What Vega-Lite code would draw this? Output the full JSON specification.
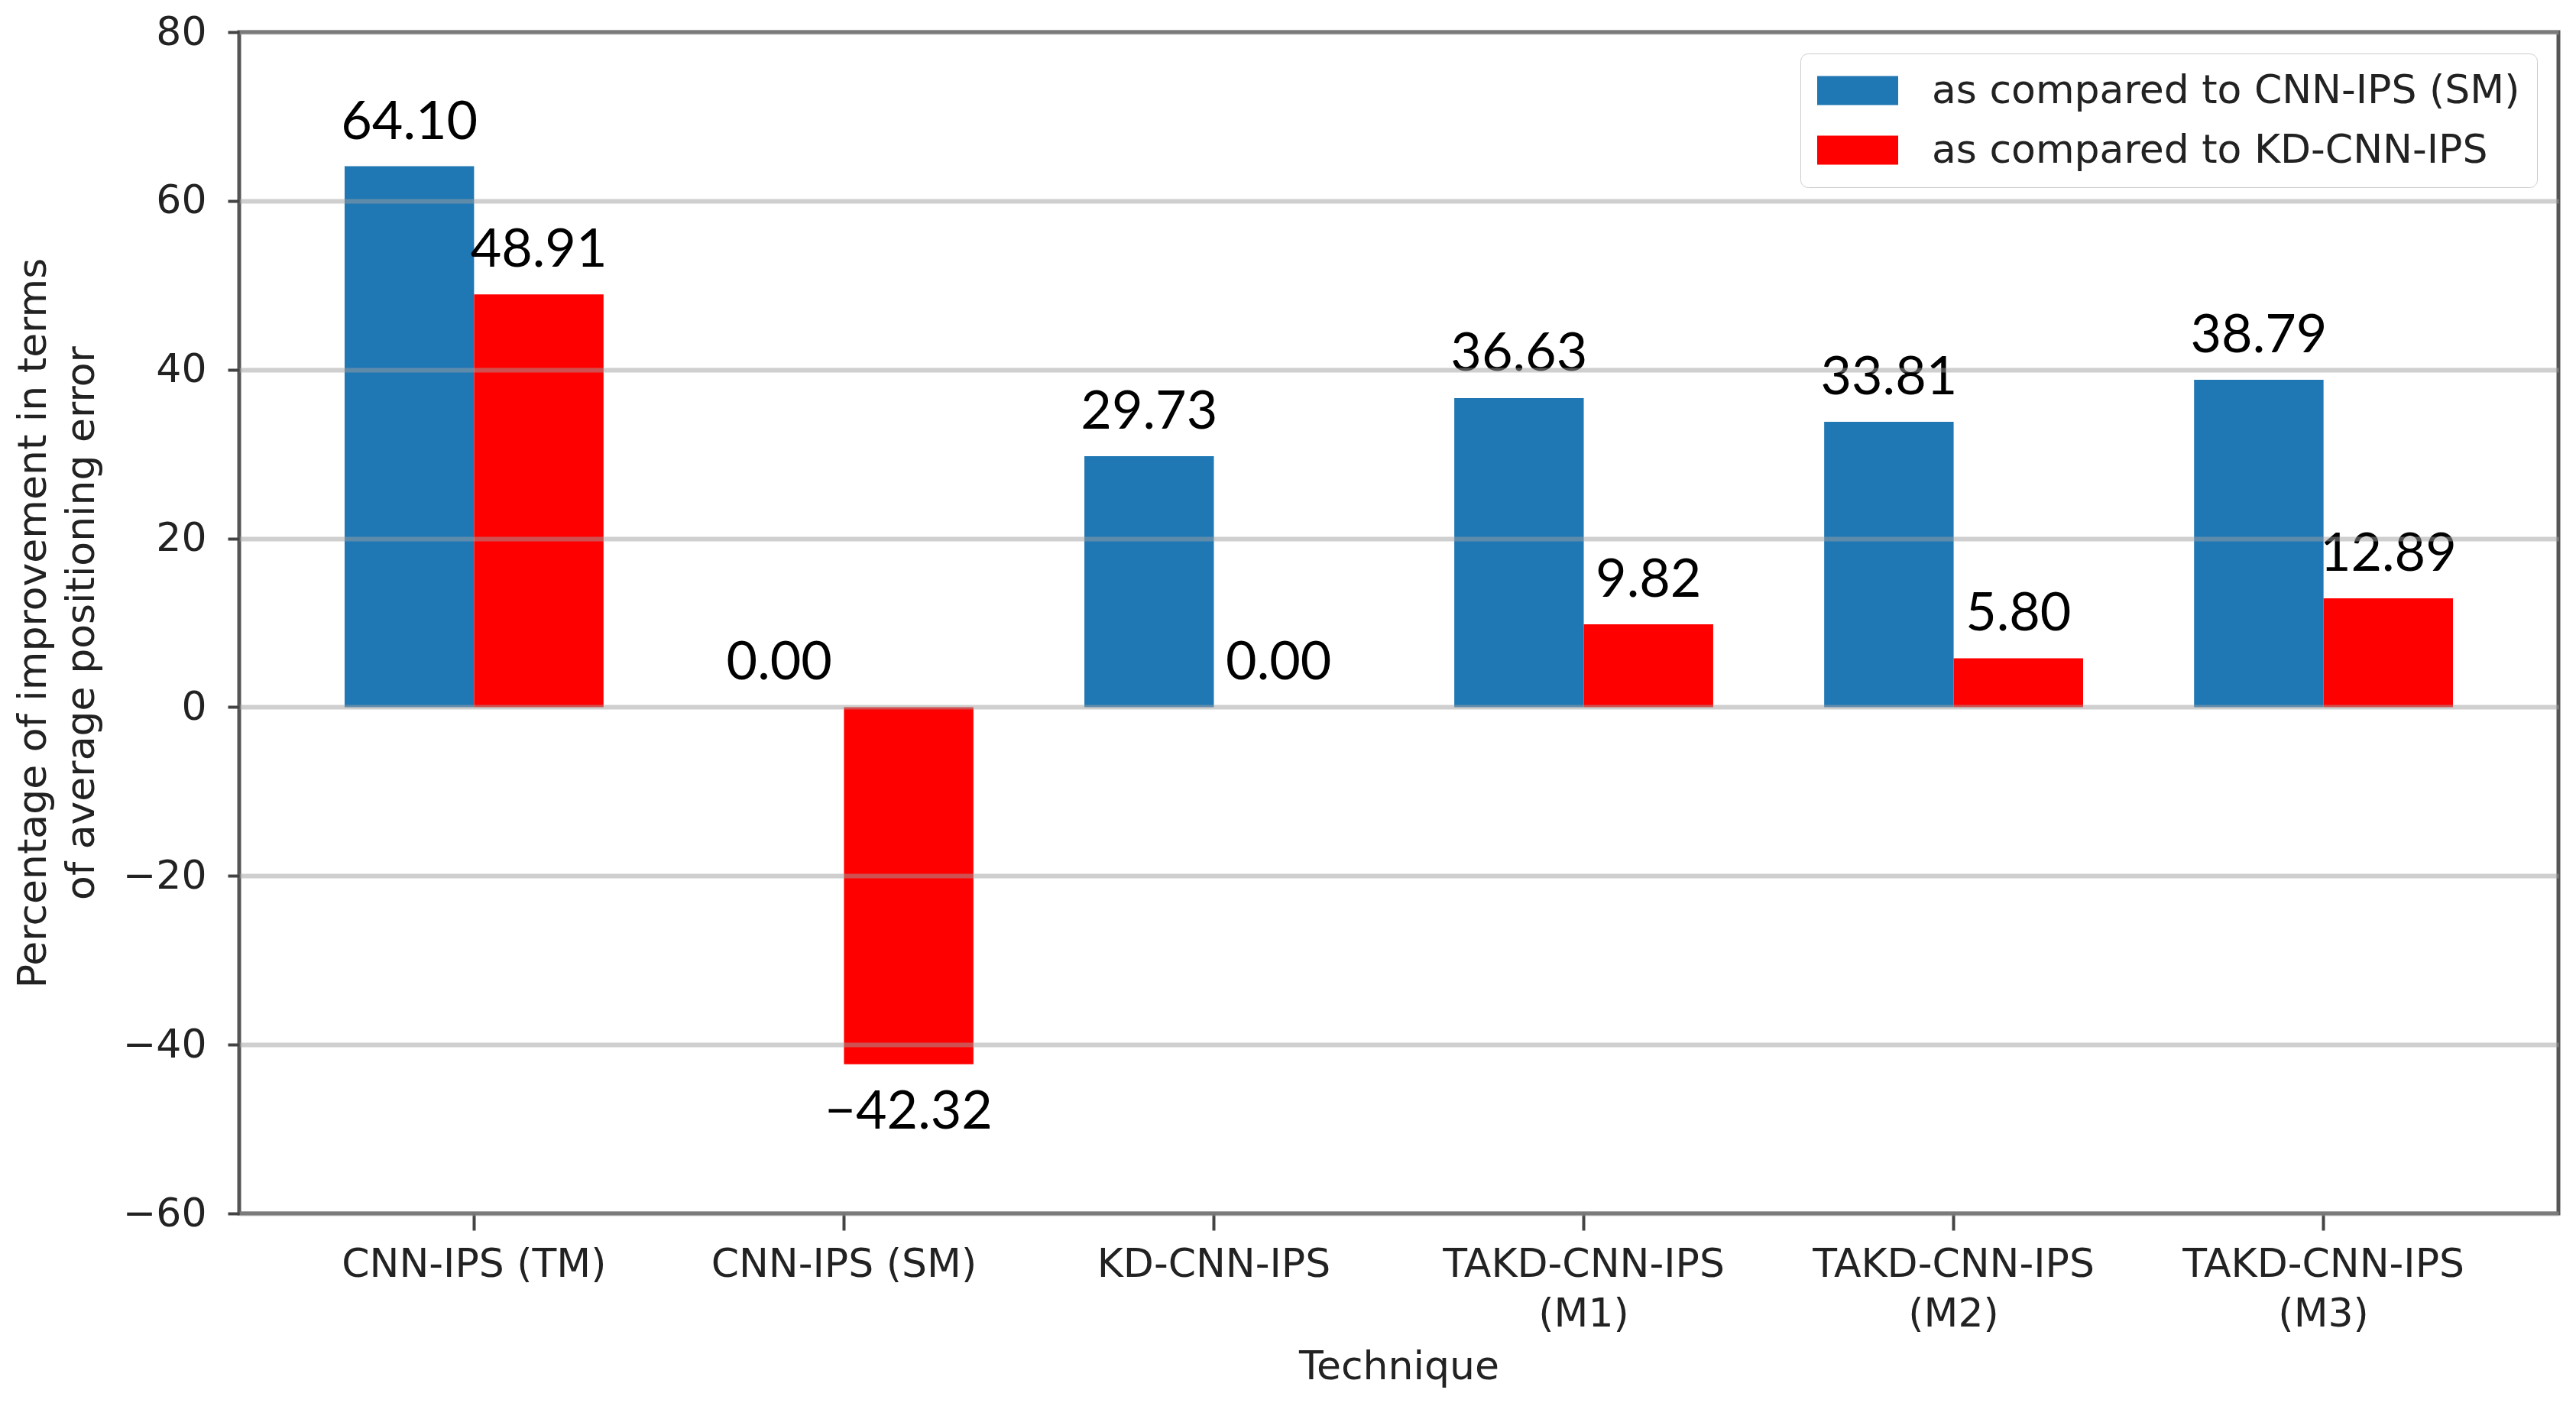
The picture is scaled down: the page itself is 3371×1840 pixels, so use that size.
{
  "$schema": "https://vega.github.io/schema/vega-lite/v6.json",
  "autosize": {"type": "none"},
  "padding": {"left": 313, "top": 42, "right": 23, "bottom": 252},
  "width": 3035,
  "height": 1546,
  "background": "white",
  "config": {
    "view": {"stroke": "#555555", "strokeWidth": 5},
    "font": "DejaVu Sans",
    "legend": {
      "strokeColor": "#cccccc",
      "cornerRadius": 10,
      "fillColor": "#ffffff",
      "padding": 22
    }
  },
  "data": {
    "values": [
      {"technique": "CNN-IPS (TM)", "series": "as compared to CNN-IPS (SM)", "value": 64.10},
      {"technique": "CNN-IPS (TM)", "series": "as compared to KD-CNN-IPS", "value": 48.91},
      {"technique": "CNN-IPS (SM)", "series": "as compared to CNN-IPS (SM)", "value": 0.00},
      {"technique": "CNN-IPS (SM)", "series": "as compared to KD-CNN-IPS", "value": -42.32},
      {"technique": "KD-CNN-IPS", "series": "as compared to CNN-IPS (SM)", "value": 29.73},
      {"technique": "KD-CNN-IPS", "series": "as compared to KD-CNN-IPS", "value": 0.00},
      {"technique": "TAKD-CNN-IPS (M1)", "series": "as compared to CNN-IPS (SM)", "value": 36.63},
      {"technique": "TAKD-CNN-IPS (M1)", "series": "as compared to KD-CNN-IPS", "value": 9.82},
      {"technique": "TAKD-CNN-IPS (M2)", "series": "as compared to CNN-IPS (SM)", "value": 33.81},
      {"technique": "TAKD-CNN-IPS (M2)", "series": "as compared to KD-CNN-IPS", "value": 5.80},
      {"technique": "TAKD-CNN-IPS (M3)", "series": "as compared to CNN-IPS (SM)", "value": 38.79},
      {"technique": "TAKD-CNN-IPS (M3)", "series": "as compared to KD-CNN-IPS", "value": 12.89}
    ]
  },
  "encoding": {
    "x": {
      "field": "technique",
      "type": "nominal",
      "sort": ["CNN-IPS (TM)", "CNN-IPS (SM)", "KD-CNN-IPS", "TAKD-CNN-IPS (M1)", "TAKD-CNN-IPS (M2)", "TAKD-CNN-IPS (M3)"],
      "scale": {"paddingInner": 0.3, "paddingOuter": 0.285},
      "axis": {
        "title": "Technique",
        "labelAngle": 0,
        "domain": false,
        "grid": false,
        "tickSize": 22,
        "tickWidth": 4,
        "tickColor": "#444444",
        "labelPadding": 19,
        "labelFontSize": 52,
        "labelLineHeight": 65,
        "labelColor": "#222222",
        "labelLimit": 0,
        "labelExpr": "indexof(datum.label,'TAKD')==0 ? split(datum.label,' ') : datum.label",
        "titleFontSize": 52,
        "titleFontWeight": "normal",
        "titlePadding": 18,
        "titleColor": "#222222"
      }
    },
    "xOffset": {
      "field": "series",
      "type": "nominal",
      "sort": ["as compared to CNN-IPS (SM)", "as compared to KD-CNN-IPS"],
      "scale": {"paddingInner": 0, "paddingOuter": 0}
    },
    "y": {
      "field": "value",
      "type": "quantitative",
      "scale": {"domain": [-60, 80], "nice": false},
      "axis": {
        "values": [-60, -40, -20, 0, 20, 40, 60, 80],
        "title": ["Percentage of improvement in terms", "of average positioning error"],
        "grid": true,
        "gridColor": "#a0a0a0",
        "gridOpacity": 0.5,
        "gridWidth": 6,
        "domain": false,
        "tickSize": 15,
        "tickWidth": 4,
        "tickColor": "#444444",
        "labelPadding": 28,
        "labelFontSize": 52,
        "labelColor": "#222222",
        "titleFontSize": 52,
        "titleFontWeight": "normal",
        "titleLineHeight": 63,
        "titlePadding": 27,
        "titleColor": "#222222",
        "zindex": 1
      }
    }
  },
  "layer": [
    {
      "mark": {"type": "bar"},
      "encoding": {
        "color": {
          "field": "series",
          "type": "nominal",
          "scale": {
            "domain": ["as compared to CNN-IPS (SM)", "as compared to KD-CNN-IPS"],
            "range": ["#1f77b4", "#ff0000"]
          },
          "legend": {
            "title": null,
            "orient": "top-right",
            "offset": 28,
            "symbolType": "M-1,-0.72L3,-0.72L3,0.72L-1,0.72Z",
            "symbolSize": 2809,
            "symbolStrokeWidth": 0,
            "symbolOpacity": 1,
            "labelFontSize": 52,
            "labelOffset": 97,
            "rowPadding": 25,
            "labelColor": "#222222",
            "labelLimit": 0
          }
        }
      }
    },
    {
      "transform": [{"filter": "datum.value >= 0"}],
      "mark": {"type": "text", "baseline": "alphabetic", "align": "center", "dy": -36, "font": "Lato", "fontSize": 70, "color": "#000000"},
      "encoding": {
        "text": {"field": "value", "type": "quantitative", "format": ".2f"}
      }
    },
    {
      "transform": [{"filter": "datum.value < 0"}],
      "mark": {"type": "text", "baseline": "alphabetic", "align": "center", "dy": 84, "font": "Lato", "fontSize": 70, "color": "#000000"},
      "encoding": {
        "text": {"field": "value", "type": "quantitative", "format": ".2f"}
      }
    }
  ]
}
